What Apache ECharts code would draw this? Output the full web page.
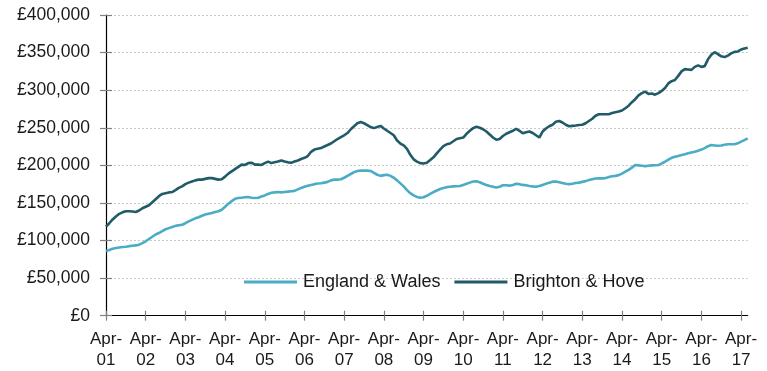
<!DOCTYPE html>
<html>
<head>
<meta charset="utf-8">
<script src="https://cdn.jsdelivr.net/npm/echarts@6/dist/echarts.min.js"></script>
<style>
  html, body { margin: 0; padding: 0; background: #ffffff; }
  #chart { width: 767px; height: 371px; }
</style>
</head>
<body>
<div id="chart"></div>
<script>
// Monthly average house prices (£000s), April 2001 to June 2017
const startYear = 2001;
const startMonth = 3; // April (0-based)
const monthNames = ['Jan','Feb','Mar','Apr','May','Jun','Jul','Aug','Sep','Oct','Nov','Dec'];

const englandWales = [
  86, 87.5, 89, 90, 90.8, 91.3, 91.8, 92.5, 93, 93.5, 94.5, 96.5,
  99, 102, 105, 108, 110, 112.5, 115, 116.5, 118, 119.5, 120.3, 121,
  123, 125.5, 127.5, 129.5, 131, 133, 134.5, 135.5, 136.5, 138, 139, 141,
  145, 149, 152.5, 155.5, 156.5, 157, 157.5, 157.8, 157, 156.5, 157, 158.5,
  160, 162, 163.5, 164, 164.5, 164, 164.5, 165, 165.5, 166, 168, 170,
  171.5, 173, 174, 175, 175.8, 176.2, 177, 178, 180, 181, 181, 181.5,
  183.5, 186, 188.5, 191, 192.5, 193, 193, 193, 192.5, 190, 187.5, 186,
  187, 187.6, 186, 183.5, 180, 176, 172, 167, 163, 160, 158, 157,
  157.5, 159.5, 162, 164.5, 166.5, 168.5, 170, 171, 171.6, 172, 172.2, 172.5,
  174, 175.5, 177, 178.5, 178.8, 177.5, 175.5, 174, 172.5, 171.5, 170.5, 171.5,
  173.5, 173.5, 173, 174, 175.5, 175, 174, 173.5, 172.5, 172, 171.6, 172.5,
  174, 175.5, 177, 178.3, 178.5, 177.5, 176.5, 175.5, 175, 175.5, 176.5, 177,
  178, 179, 180.5, 181.5, 182.5, 182.7, 182.7, 183, 184.5, 185.4, 186, 187,
  189, 191.5, 194, 197, 200.4, 200, 199.5, 199, 199.5, 200, 200.2, 200.4,
  202.5, 204.8, 207.5, 210, 211.5, 212.5, 213.8, 214.7, 216, 217, 218, 219.5,
  221, 223, 225.5, 227, 226.5, 226, 226.5, 227.5, 228, 228, 228, 229.3,
  231.5, 233.5, 236
];

const brightonHove = [
  118.4, 123, 128, 132, 135.5, 137.5, 139, 139, 138.5, 138, 140, 143,
  145, 147, 151, 155, 159, 162, 163, 164, 164.5, 167, 170, 172,
  175, 177, 178.5, 180, 181, 181, 182, 183, 183, 182, 181, 181.5,
  185, 189, 192, 195, 198, 201, 200.5, 203, 203.5, 201, 201, 200.5,
  203, 205, 203, 204, 205, 206.5, 205, 204, 203.5, 205, 206.5, 208.5,
  210, 212.4, 218, 221, 222, 223, 225, 227, 229, 232, 235, 237.5,
  240, 243, 248, 252, 256, 257.6, 256, 253.6, 251, 249.5, 251, 252.5,
  249, 246, 243, 240, 233, 229, 226.5, 222, 214, 208, 205, 203,
  202.5, 203.5, 207, 210.7, 216, 221, 225.7, 228, 229, 232, 235, 236,
  237, 242, 246, 249.5, 251.4, 250, 248, 245, 241, 237, 234, 235,
  239, 242, 244, 246, 248.7, 246, 242.6, 244, 245, 243, 240, 237,
  245, 249, 252, 254, 258, 259, 257, 254, 252, 252.5, 253, 253.6,
  254, 256, 259, 262, 266, 268, 268, 268, 268, 269.5, 270.5, 271.5,
  273, 276, 279.3, 284, 288, 293, 296, 298, 295, 295.5, 294, 296,
  299, 303, 309, 312, 313.5, 319, 325, 328, 327.5, 327, 331, 333,
  331, 332, 341, 347, 350.5, 348, 345, 344, 346, 349, 351, 351.5,
  354, 355.5, 356.5
];

// Month labels such as "Apr-01"
const months = [];
for (let i = 0; i < englandWales.length; i++) {
  const t = startMonth + i;
  const y = (startYear + Math.floor(t / 12)) % 100;
  months.push(monthNames[t % 12] + '-' + String(y).padStart(2, '0'));
}

const yTicks = { min: 0, max: 400, interval: 50 };

const fontFamily = '"Liberation Sans", Arial, Helvetica, sans-serif';
const textColor = '#1a1a1a';
const tickColor = '#808080';

const chart = echarts.init(document.getElementById('chart'), null, { renderer: 'canvas' });

function poundLabel(v) {
  return '£' + (v * 1000).toLocaleString('en-GB');
}

chart.setOption({
  animation: false,
  backgroundColor: '#ffffff',
  grid: { left: 106, right: 19.3, top: 15, bottom: 55.3, containLabel: false },
  legend: {
    data: ['England & Wales', 'Brighton & Hove'],
    left: 244,
    top: 273,
    padding: 0,
    icon: 'rect',
    itemWidth: 53,
    itemHeight: 3,
    itemGap: 14,
    textStyle: { fontFamily: fontFamily, fontSize: 18, color: textColor, padding: [0, 0, 0, 1] }
  },
  xAxis: [
    {
      type: 'category',
      data: months,
      boundaryGap: false,
      axisLine: { show: true, lineStyle: { color: '#000000', width: 1.2 } },
      axisTick: { show: true, interval: 11, length: 5, lineStyle: { color: tickColor, width: 1.2 } },
      axisLabel: {
        interval: 11,
        margin: 13,
        fontFamily: fontFamily,
        fontSize: 17,
        lineHeight: 21,
        color: textColor,
        formatter: function (v) { return v.replace('-', '-\n'); }
      },
      splitLine: { show: false }
    },
    {
      type: 'category',
      data: months,
      boundaryGap: false,
      position: 'bottom',
      axisLine: { show: false },
      axisTick: { show: true, inside: true, interval: 11, length: 5, lineStyle: { color: tickColor, width: 1.2 } },
      axisLabel: { show: false },
      splitLine: { show: false }
    }
  ],
  yAxis: [
    {
      type: 'value',
      min: yTicks.min,
      max: yTicks.max,
      interval: yTicks.interval,
      axisLine: { show: true, lineStyle: { color: '#000000', width: 1.2 } },
      axisTick: { show: true, length: 6, lineStyle: { color: tickColor, width: 1.2 } },
      axisLabel: {
        margin: 16,
        fontFamily: fontFamily,
        fontSize: 17.5,
        color: textColor,
        formatter: poundLabel
      },
      splitLine: { show: true, lineStyle: { color: '#c9c9c9', type: [2, 2], width: 1 } }
    },
    {
      type: 'value',
      min: yTicks.min,
      max: yTicks.max,
      interval: yTicks.interval,
      position: 'left',
      axisLine: { show: false },
      axisTick: { show: true, inside: true, length: 6, lineStyle: { color: tickColor, width: 1.2 } },
      axisLabel: { show: false },
      splitLine: { show: false }
    }
  ],
  series: [
    {
      name: 'England & Wales',
      type: 'line',
      data: englandWales,
      symbol: 'none',
      smooth: false,
      color: '#4bacc6',
      lineStyle: { color: '#4bacc6', width: 2.6 },
      z: 3
    },
    {
      name: 'Brighton & Hove',
      type: 'line',
      data: brightonHove,
      symbol: 'none',
      smooth: false,
      color: '#215b67',
      lineStyle: { color: '#215b67', width: 2.6 },
      z: 4
    }
  ]
});
</script>
</body>
</html>
